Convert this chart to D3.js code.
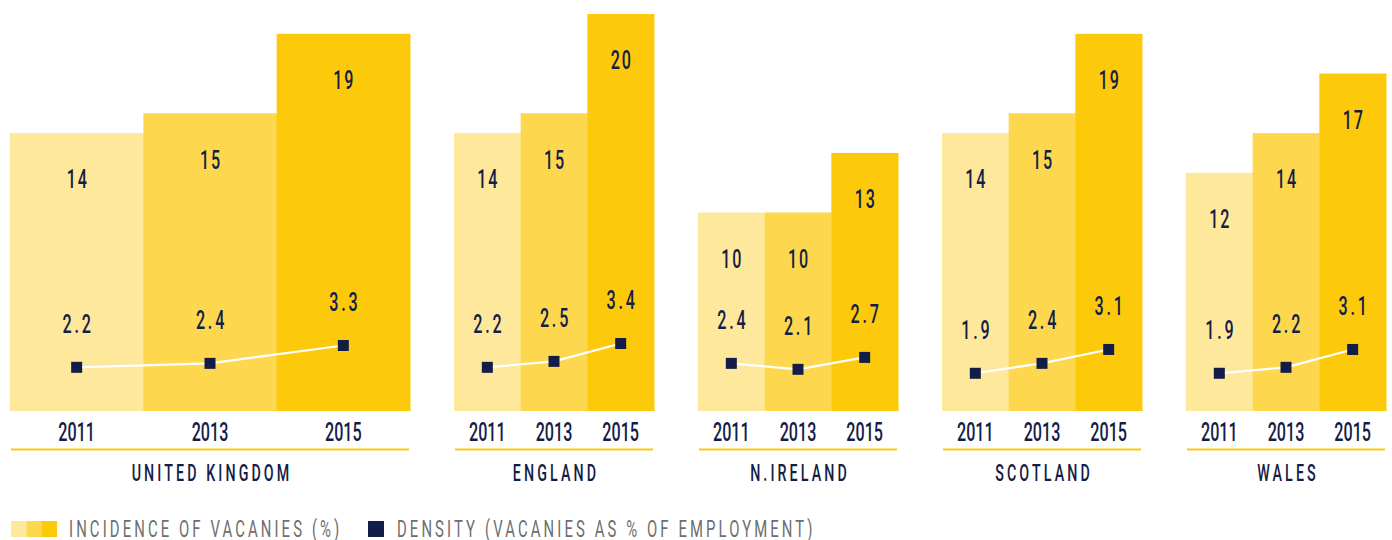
<!DOCTYPE html>
<html>
<head>
<meta charset="utf-8">
<script src="https://cdn.jsdelivr.net/npm/d3@7"></script>
<style>
  body { margin: 0; background: #fff; }
  svg text { font-family: Roboto, "DejaVu Sans", sans-serif; }
</style>
</head>
<body>
<div class="chart"></div>
<script>
var w = 1392;
var h = 540;

// data
var regions = ["UNITED KINGDOM", "ENGLAND", "N.IRELAND", "SCOTLAND", "WALES"];
var years = ["2011", "2013", "2015"];
var incidence = [[14, 15, 19], [14, 15, 20], [10, 10, 13], [14, 15, 19], [12, 14, 17]];
var density = [[2.2, 2.4, 3.3], [2.2, 2.5, 3.4], [2.4, 2.1, 2.7], [1.9, 2.4, 3.1], [1.9, 2.2, 3.1]];
var legendLabels = ["INCIDENCE OF VACANIES (%)", "DENSITY (VACANIES AS % OF EMPLOYMENT)"];

var yearColors = ["#fde89b", "#fdd84f", "#fdc90b"];
var navy = "#141d47";

var svg = d3.select(".chart").append("svg")
    .attr("width", w)
    .attr("height", h);

// UK group is twice as wide as the others
var left = 10, right = 1386, gap = 44;
var unit = (right - left - gap * (regions.length - 1)) / (regions.length + 1);
var groupX = [], groupW = [];
var cur = left;
regions.forEach(function (r, i) {
  var gw = i == 0 ? unit * 2 : unit;
  groupX.push(cur);
  groupW.push(gw);
  cur += gw + gap;
});

var y = d3.scaleLinear().domain([0, 20]).range([411, 14]);

// squeezed text so it looks like a condensed face
function cText(sel, x, yy, txt, size, ls, weight, anchor, fill) {
  return sel.append("text")
      .attr("transform", "translate(" + x + "," + yy + ") scale(0.62,1)")
      .attr("text-anchor", anchor)
      .attr("dy", "0.36em")
      .attr("font-size", size)
      .attr("font-weight", weight)
      .attr("letter-spacing", ls)
      .attr("fill", fill)
      .text(txt);
}

regions.forEach(function (region, gi) {
  var x = d3.scaleBand().domain(years)
      .range([groupX[gi], groupX[gi] + groupW[gi]]).padding(0);
  var cx = function (i) { return x(years[i]) + x.bandwidth() / 2; };
  var g = svg.append("g");

  g.selectAll("rect.bar")
      .data(incidence[gi])
      .enter()
      .append("rect")
      .attr("class", "bar")
      .attr("x", function (d, i) { return x(years[i]); })
      .attr("width", x.bandwidth() + 0.5)
      .attr("y", function (d) { return y(d); })
      .attr("height", function (d) { return y(0) - y(d); })
      .attr("fill", function (d, i) { return yearColors[i]; });

  incidence[gi].forEach(function (v, i) {
    cText(g, cx(i) + 1, y(v) + 46, v, 26, 3, 500, "middle", navy);
  });

  var line = d3.line()
      .x(function (d, i) { return cx(i); })
      .y(function (d) { return y(d); });

  g.append("path")
      .datum(density[gi])
      .attr("d", line)
      .attr("fill", "none")
      .attr("stroke", "#fff")
      .attr("stroke-width", 2.2);

  g.selectAll("rect.dot")
      .data(density[gi])
      .enter()
      .append("rect")
      .attr("class", "dot")
      .attr("x", function (d, i) { return cx(i) - 5.5; })
      .attr("y", function (d) { return y(d) - 5.5; })
      .attr("width", 11)
      .attr("height", 11)
      .attr("fill", navy);

  density[gi].forEach(function (v, i) {
    cText(g, cx(i) + 1.5, y(v) - 44, v.toFixed(1), 26, 4.5, 500, "middle", navy);
  });

  years.forEach(function (yr, i) {
    cText(g, cx(i), 432, yr, 26, 0, 500, "middle", navy);
  });

  g.append("line")
      .attr("x1", groupX[gi] + 1)
      .attr("x2", groupX[gi] + groupW[gi] - 1)
      .attr("y1", 449.5)
      .attr("y2", 449.5)
      .attr("stroke", yearColors[2])
      .attr("stroke-width", 2);

  cText(g, groupX[gi] + groupW[gi] / 2 + 2, 473, region, 23, 5, 500, "middle", navy);
});

// legend
var lg = svg.append("g");
lg.selectAll("rect.sw")
    .data(yearColors)
    .enter()
    .append("rect")
    .attr("class", "sw")
    .attr("x", function (d, i) { return 11 + i * 15.3; })
    .attr("y", 521)
    .attr("width", 15.5)
    .attr("height", 16)
    .attr("fill", function (d) { return d; });

lg.append("rect")
    .attr("x", 368).attr("y", 521)
    .attr("width", 16).attr("height", 16)
    .attr("fill", navy);

[69, 397].forEach(function (lx, i) {
  cText(lg, lx, 528.5, legendLabels[i], 24, 5, 400, "start", "#6e6e6e");
});
</script>
</body>
</html>
